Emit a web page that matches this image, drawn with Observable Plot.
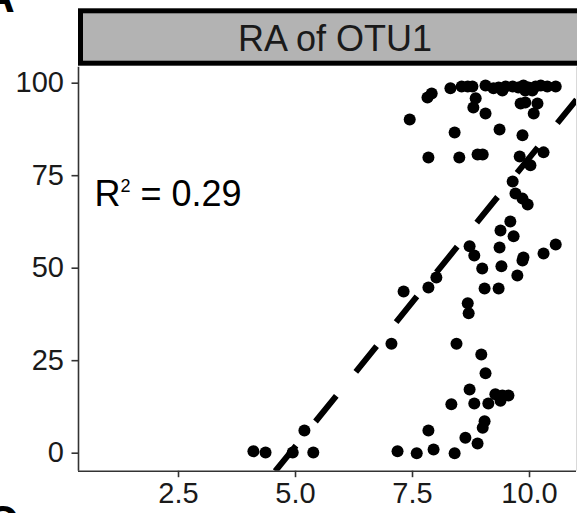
<!DOCTYPE html>
<html>
<head>
<meta charset="utf-8">
<script src="https://cdn.jsdelivr.net/npm/d3@7"></script>
<script src="https://cdn.jsdelivr.net/npm/@observablehq/plot@0.6"></script>
<style>
  html, body { margin: 0; padding: 0; background: #fff; }
  #chart svg { display: block; }
</style>
</head>
<body>
<div id="chart"></div>
<script>
const otuX = [8.31, 8.55, 8.68, 8.78, 9.06, 9.23, 9.34, 9.42, 9.49, 9.64, 9.76, 9.87, 9.98, 10.13, 10.24, 10.38, 10.56, 9.91, 10.06,
  7.82, 7.91, 7.44, 8.85, 8.80, 9.06, 9.81, 9.91, 10.17, 10.09, 8.40, 9.36, 9.85,
  7.84, 8.50, 8.89, 9.00, 9.79, 10.02, 10.30, 9.64, 9.70, 9.85, 9.96, 9.59, 9.38, 9.66,
  9.36, 8.72, 8.82, 8.99, 9.40, 9.87, 9.85, 10.30, 10.56, 8.01, 7.84, 7.31, 9.04, 9.34, 9.74,
  8.68, 8.70, 7.05, 8.44, 8.97, 9.06, 8.72, 8.33, 8.82, 9.12, 9.27, 9.42, 9.55, 9.38,
  7.84, 9.04, 9.00, 8.63, 8.89, 7.18, 7.59, 7.95, 8.40, 5.19, 4.10, 4.36, 4.94, 5.38];
const otuY = [98.6, 99.1, 99.1, 99.1, 99.4, 98.6, 98.8, 98.0, 99.1, 99.1, 98.8, 99.4, 98.8, 99.1, 99.4, 99.1, 99.1, 98.0, 98.0,
  96.1, 97.2, 90.2, 95.9, 93.4, 91.8, 94.5, 94.8, 94.5, 91.8, 86.7, 87.5, 85.9,
  79.9, 79.9, 80.7, 80.7, 80.2, 77.8, 81.3, 73.4, 70.2, 68.8, 67.2, 62.6, 60.2, 58.6,
  55.6, 55.9, 53.4, 49.9, 50.5, 52.9, 52.1, 54.0, 56.4, 47.5, 44.8, 43.7, 44.5, 44.5, 48.0,
  40.5, 37.8, 29.6, 29.6, 26.7, 21.6, 17.2, 13.2, 13.4, 13.4, 15.9, 15.6, 15.6, 14.2,
  6.1, 8.6, 6.9, 4.2, 2.6, 0.5, 0.0, 1.0, 0.0, 6.1, 0.5, 0.2, 0.2, 0.2];

const xTicks = [2.5, 5.0, 7.5, 10.0];
const yTicks = [0, 25, 50, 75, 100];
const stripLabel = "RA of OTU1";
const r2Base = "R";
const r2Sup = "2";
const r2Rest = " = 0.29";
const fitSlope = 15.6;
const fitIntercept = -76.1;
const r2Pos = {x: 0.705, y: 66.9};

const xDomain = [0.363, 11.004];
const yDomain = [-4.87, 104.32];

const points = otuX.map((x, i) => ({x, y: otuY[i]}));
// fitted line, from where it enters the panel bottom to the panel's right edge
const xStart = (yDomain[0] - fitIntercept) / fitSlope;
const fitLine = [xStart, xDomain[1]].map(x => ({x, y: fitSlope * x + fitIntercept}));

const font = "'Liberation Sans', Arial, sans-serif";
const W = 577, H = 513;
const mL = 78, mR = 1, mT = 66.7, mB = 42.3;

const plot = Plot.plot({
  width: W,
  height: H,
  marginLeft: mL,
  marginRight: mR,
  marginTop: mT,
  marginBottom: mB,
  style: {fontFamily: font, fontSize: "29px", color: "#1a1a1a", background: "#fff", overflow: "visible"},
  x: {domain: xDomain, label: null},
  y: {domain: yDomain, label: null},
  marks: [
    Plot.dot(points, {x: "x", y: "y", r: 6, fill: "black", stroke: "none"}),
    Plot.line(fitLine, {x: "x", y: "y", stroke: "black", strokeWidth: 6, strokeDasharray: "33,31", strokeLinecap: "butt", clip: true}),
    Plot.text([r2Base + r2Sup + r2Rest], {x: () => r2Pos.x, y: () => r2Pos.y, text: d => d, textAnchor: "start", lineAnchor: "bottom", fontSize: 36, fill: "black", className: "r2label"}),
    Plot.ruleX([xDomain[1]], {stroke: "#d9d9d9", strokeWidth: 1}),
    Plot.ruleX([xDomain[0]], {stroke: "#333", strokeWidth: 1.6}),
    Plot.ruleY([yDomain[0]], {stroke: "#333", strokeWidth: 1.6}),
    Plot.axisX({ticks: xTicks, tickFormat: d3.format(".1f"), tickSize: 6.5, tickPadding: 5, fontSize: 29, stroke: "#333", strokeWidth: 1.6, fill: "#1a1a1a", label: null}),
    Plot.axisY({ticks: yTicks, tickFormat: d3.format("d"), tickSize: 6.5, tickPadding: 8, fontSize: 29, stroke: "#333", strokeWidth: 1.6, fill: "#1a1a1a", label: null})
  ]
});

const svg = d3.select(plot);
// render the "2" of R² as a superscript
svg.selectAll("g.r2label text").each(function() {
  const t = d3.select(this);
  t.text(null);
  t.append("tspan").text(r2Base);
  t.append("tspan").attr("font-size", 18).attr("dy", "-14").text(r2Sup);
  t.append("tspan").attr("dy", "14").text(r2Rest);
});
// facet strip
svg.append("rect")
  .attr("x", mL + 2.5).attr("y", 10.8)
  .attr("width", 700).attr("height", 52.4)
  .attr("fill", "#b3b3b3").attr("stroke", "black").attr("stroke-width", 5);
svg.append("text")
  .attr("x", 335).attr("y", 50.7)
  .attr("text-anchor", "middle")
  .attr("font-family", font).attr("font-size", 36)
  .attr("fill", "#1a1a1a")
  .text(stripLabel);
// panel letters
svg.append("text").attr("x", -1).attr("y", 12).attr("font-family", font)
  .attr("font-size", 44).attr("font-weight", "bold").attr("fill", "black").text("A");
svg.append("text").attr("x", 2).attr("y", 536.5).attr("font-family", font)
  .attr("font-size", 44).attr("font-weight", "bold").attr("fill", "black").text("C");

document.getElementById("chart").appendChild(plot);
</script>
</body>
</html>
